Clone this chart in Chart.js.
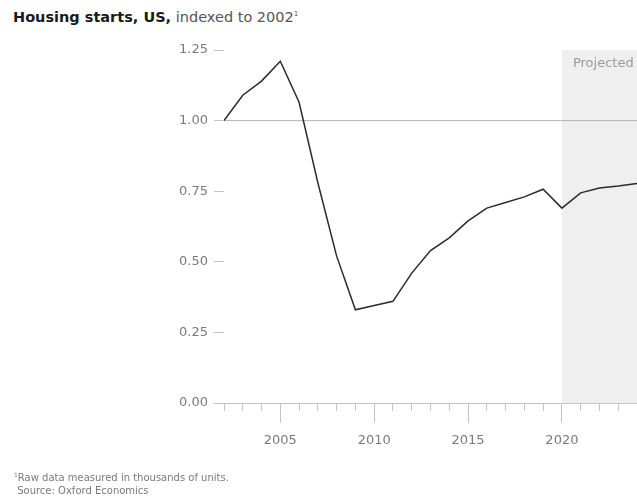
<!DOCTYPE html>
<html>
<head>
<meta charset="utf-8">
<script src="https://cdn.jsdelivr.net/npm/chart.js@4.4.1/dist/chart.umd.min.js"></script>
<style>
  body { margin: 0; background: #fff; }
  #wrap { position: relative; width: 637px; height: 497px; overflow: hidden; font-family: "DejaVu Sans", sans-serif; }
  #titulo { position: absolute; left: 13px; top: 9px; font-size: 14.5px; color: #555; white-space: nowrap; }
  #titulo b { color: #1a1a1a; }
  #titulo sup { font-size: 7px; }
  #notas sup { font-size: 6px; }
  #notas { position: absolute; left: 14px; top: 468px; font-size: 10px; color: #7a7a7a; line-height: 13px; }
  canvas { position: absolute; left: 0; top: 0; }
</style>
</head>
<body>
<div id="wrap">
  <div id="titulo"><b>Housing starts, US,</b> indexed to 2002<sup>1</sup></div>
  <canvas id="grafico"></canvas>
  <div id="notas"><sup>1</sup>Raw data measured in thousands of units.<br>&nbsp;Source: Oxford Economics</div>
</div>
<script>
// anos e índice (2002 = 1,00)
const anos = [2002, 2003, 2004, 2005, 2006, 2007, 2008, 2009, 2010, 2011, 2012, 2013,
              2014, 2015, 2016, 2017, 2018, 2019, 2020, 2021, 2022, 2023, 2024];
const indice = [1.00, 1.09, 1.14, 1.21, 1.065, 0.78, 0.52, 0.33, 0.345, 0.36, 0.46, 0.54,
                0.585, 0.645, 0.69, 0.71, 0.73, 0.757, 0.69, 0.744, 0.761, 0.768, 0.777];
const yTicks = [0, 0.25, 0.5, 0.75, 1.0, 1.25];
const inicioProjecao = 2020;
const textoProjecao = "Projected";
const referencia = 1.0;

const yMax = yTicks[yTicks.length - 1];
const anoFinal = anos[anos.length - 1];

// faixa cinza do período projetado
const faixa = anos.filter(a => a >= inicioProjecao).map(a => ({ x: a, y: yMax }));

const extras = {
    id: "extras",
    afterDraw(chart) {
        const { ctx, chartArea, scales: { x, y } } = chart;
        ctx.save();
        // linha base do eixo x
        const y0 = Math.round(y.getPixelForValue(0)) + 0.5;
        ctx.strokeStyle = "#c4c4c4";
        ctx.lineWidth = 1;
        ctx.beginPath();
        ctx.moveTo(chartArea.left - 9, y0);
        ctx.lineTo(chartArea.right, y0);
        ctx.stroke();
        // rótulo "Projected"
        ctx.fillStyle = "#9a9a9a";
        ctx.font = '13px "DejaVu Sans"';
        ctx.textBaseline = "middle";
        ctx.fillText(textoProjecao, x.getPixelForValue(inicioProjecao) + 11, y.getPixelForValue(yMax) + 14);
        ctx.restore();
    }
};

const config = {
    type: "line",
    data: {
        datasets: [
            {
                data: anos.map((a, i) => ({ x: a, y: indice[i] })),
                borderColor: "#2b2b2b",
                borderWidth: 1.5,
                pointRadius: 0,
                tension: 0,
                order: 1
            },
            {
                data: [{ x: anos[0], y: referencia }, { x: anoFinal, y: referencia }],
                borderColor: "#b5b5b5",
                borderWidth: 1,
                pointRadius: 0,
                order: 2
            },
            {
                data: faixa,
                borderWidth: 0,
                pointRadius: 0,
                backgroundColor: "#efefef",
                fill: "origin",
                order: 3
            }
        ]
    },
    options: {
        responsive: true,
        maintainAspectRatio: false,
        animation: false,
        layout: { padding: { top: 50, right: 0, left: 0, bottom: 0 } },
        plugins: {
            legend: { display: false },
            tooltip: { enabled: false }
        },
        scales: {
            x: {
                type: "linear",
                min: anos[0],
                max: anoFinal,
                afterFit(eixo) { eixo.height = 94; },
                border: { display: false },
                grid: {
                    drawOnChartArea: false,
                    tickLength: 30,
                    tickColor: "#c4c4c4",
                    // traço longo a cada 5 anos, curto nos demais
                    tickBorderDash: ctx => (ctx.tick && ctx.tick.value % 5 === 0) ? [20, 60] : [8, 60]
                },
                ticks: {
                    stepSize: 1,
                    autoSkip: false,
                    maxRotation: 0,
                    padding: 0,
                    color: "#7a7a7a",
                    font: { family: "DejaVu Sans", size: 13 },
                    callback: v => v % 5 === 0 ? String(v) : ""
                }
            },
            y: {
                min: 0,
                max: yMax,
                afterFit(eixo) { eixo.width = 224; },
                border: { display: false },
                grid: {
                    drawOnChartArea: false,
                    tickLength: 10,
                    tickColor: "#c4c4c4"
                },
                afterBuildTicks(eixo) { eixo.ticks = yTicks.map(v => ({ value: v })); },
                ticks: {
                    padding: 6,
                    color: "#7a7a7a",
                    font: { family: "DejaVu Sans", size: 13 },
                    callback: v => v.toFixed(2)
                }
            }
        }
    },
    plugins: [extras]
};

new Chart(document.getElementById("grafico"), config);
</script>
</body>
</html>
